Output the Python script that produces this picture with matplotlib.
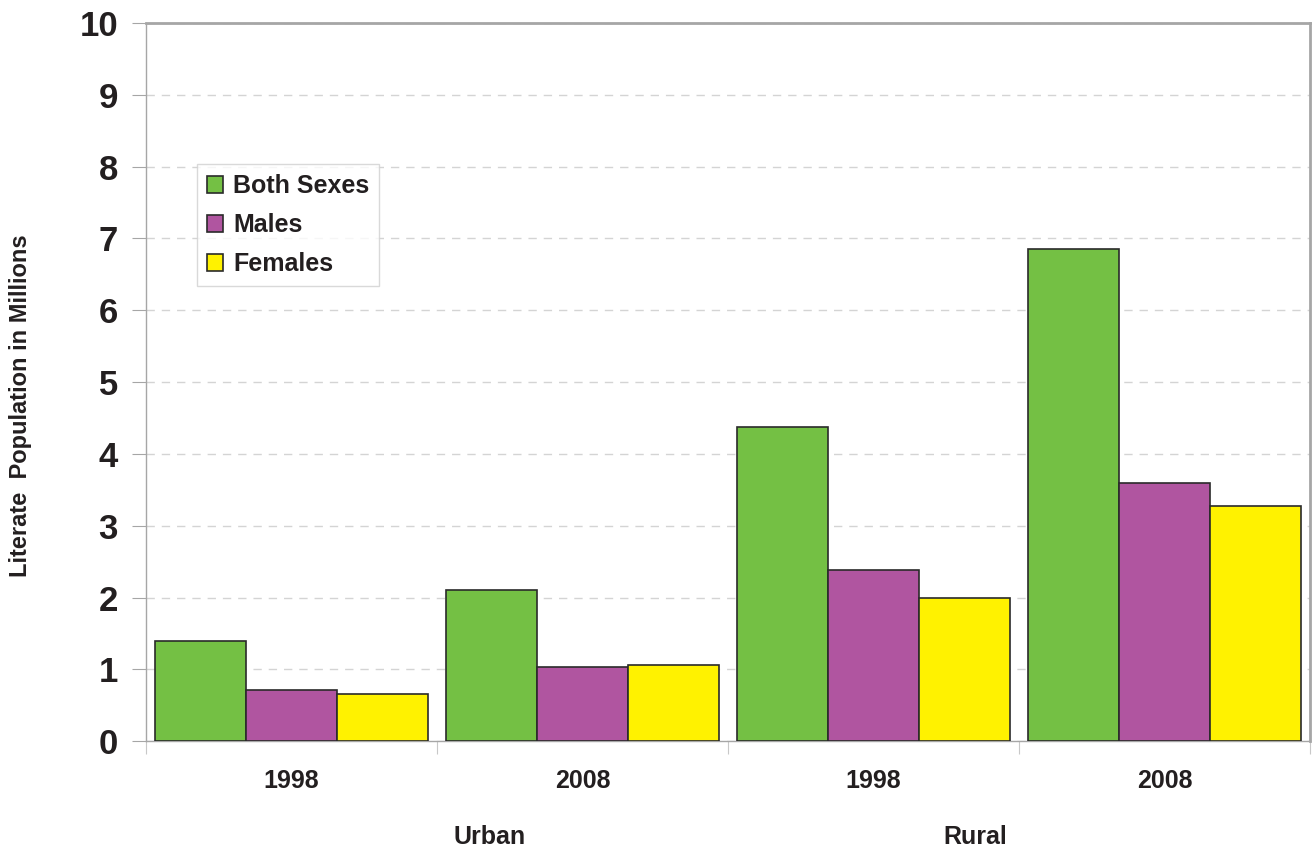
import matplotlib
matplotlib.use("Agg")
import matplotlib.pyplot as plt
import matplotlib.transforms as mtransforms
import numpy as np

plt.rcParams['font.family'] = ['Liberation Sans', 'DejaVu Sans']
plt.rcParams['font.weight'] = 'bold'

# Data: literate population (millions)
years = ["1998", "2008", "1998", "2008"]
areas = ["Urban", "Rural"]
both_sexes = [1.39, 2.10, 4.37, 6.86]
males = [0.72, 1.04, 2.38, 3.59]
females = [0.66, 1.06, 2.00, 3.27]
series_names = ["Both Sexes", "Males", "Females"]
y_ticks = list(range(0, 11))

colors = ["#74c044", "#b055a0", "#fff200"]
text_color = "#231f20"
edge_color = "#2a2a2a"
spine_color = "#a6a6a6"

fig = plt.figure(figsize=(13.14, 8.52), dpi=100)
ax = fig.add_axes([0.111, 0.130, 0.886, 0.843])

x = np.arange(len(years))
bar_w = 0.3127
for i, (vals, name, c) in enumerate(zip([both_sexes, males, females], series_names, colors)):
    ax.bar(x + (i - 1) * bar_w, vals, width=bar_w, color=c, edgecolor=edge_color,
           linewidth=1.2, label=name, zorder=3)

ax.set_xlim(-0.5, len(years) - 0.5)
ax.set_ylim(0, 10)
ax.set_yticks(y_ticks)
ax.set_yticklabels([str(t) for t in y_ticks], fontsize=25, fontweight='bold', color=text_color)
ax.tick_params(axis='y', direction='out', length=10, width=0.8, color=spine_color, pad=10)

# group labels on major ticks (no marks), boundaries as minor ticks
ax.set_xticks(x)
ax.set_xticklabels(years, fontsize=18, fontweight='bold', color=text_color)
ax.tick_params(axis='x', which='major', length=0, pad=20)
ax.set_xticks(np.arange(-0.5, len(years)), minor=True)
ax.tick_params(axis='x', which='minor', direction='out', length=9, width=0.8, color='#c8c8c8')

# horizontal dashed gridlines
ax.yaxis.grid(True, color='#d4d4d4', linestyle=(0, (6, 5)), linewidth=1.0, zorder=0)
ax.set_axisbelow(True)

for side in ['left', 'bottom']:
    ax.spines[side].set_color(spine_color)
    ax.spines[side].set_linewidth(1.0)
for side in ['top', 'right']:
    ax.spines[side].set_color(spine_color)
    ax.spines[side].set_linewidth(2.0)

# area labels below the year labels
trans = mtransforms.blended_transform_factory(ax.transData, fig.transFigure)
area_x = [0.68, 2.35]
for ax_x, name in zip(area_x, areas):
    ax.text(ax_x, 1 - 837 / 852, name, transform=trans, ha='center', va='center',
            fontsize=18, fontweight='bold', color=text_color)

fig.text(21 / 1314, 1 - 406 / 852, "Literate  Population in Millions", rotation=90,
         ha='center', va='center', fontsize=17, fontweight='bold', color=text_color)

leg = ax.legend(loc='upper left', bbox_to_anchor=(0.0438, 0.8036), borderaxespad=0,
                fontsize=18, frameon=True, fancybox=False, edgecolor='#d0d0d0',
                handlelength=0.65, handleheight=0.65, handletextpad=0.4,
                labelspacing=0.6, borderpad=0.4)
leg.get_frame().set_linewidth(1.0)
for t in leg.get_texts():
    t.set_color(text_color)
    t.set_fontweight('bold')

fig.savefig("out.png", dpi=100, facecolor='white')
